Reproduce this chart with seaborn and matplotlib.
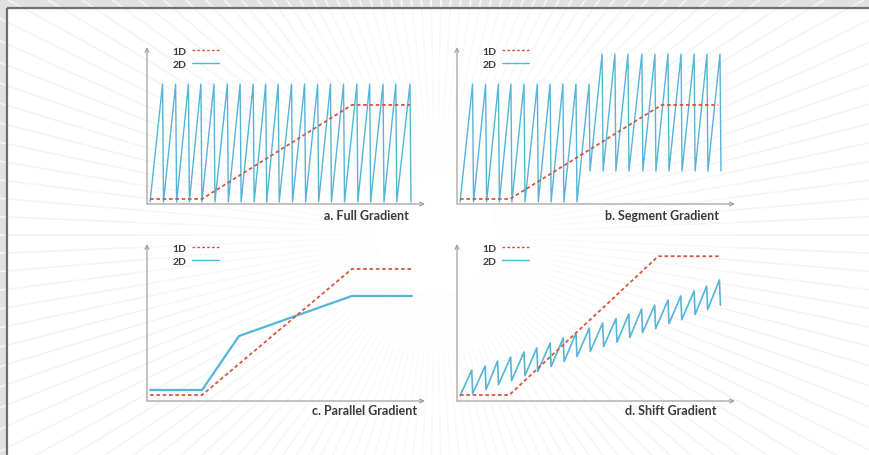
import numpy as np
import pandas as pd
import matplotlib
matplotlib.use("Agg")
import matplotlib.pyplot as plt
import seaborn as sns
from matplotlib.collections import LineCollection
from matplotlib.patches import Rectangle

# ---------------- data (axes scaled 0..100) ----------------
series_names = ["1D", "2D"]
panel_labels = ["a. Full Gradient", "b. Segment Gradient", "c. Parallel Gradient", "d. Shift Gradient"]

# a. Full Gradient
a_1d_x = [1.1, 19.8, 73.7, 94.6]
a_1d_y = [3.2, 3.2, 63.1, 63.1]
a_2d_start = [1.1, 1.3]
a_peak_x = [5.6, 10.3, 14.9, 19.4, 24.1, 28.9, 33.5, 38.2, 42.7, 47.2,
            52.0, 56.7, 61.4, 66.0, 70.7, 75.5, 80.1, 84.9, 89.5, 94.6]
a_peak_y = [76.4, 76.4, 76.4, 76.4, 76.4, 76.4, 76.4, 76.4, 76.4, 76.4,
            76.4, 76.4, 76.4, 76.4, 76.4, 76.4, 76.4, 76.4, 76.4, 76.4]
a_trough_y = [1.3, 1.3, 1.3, 1.3, 1.3, 1.3, 1.3, 1.3, 1.3, 1.3,
              1.3, 1.3, 1.3, 1.3, 1.3, 1.3, 1.3, 1.3, 1.3, 1.3]

# b. Segment Gradient
b_1d_x = [1.1, 19.1, 73.6, 94.0]
b_1d_y = [3.2, 3.2, 63.1, 63.1]
b_2d_start = [1.1, 1.3]
b_peak_x = [5.6, 10.3, 14.9, 19.4, 24.1, 28.9, 33.5, 38.1, 42.8, 47.5,
            52.2, 56.8, 61.5, 66.5, 71.2, 75.9, 80.6, 85.3, 89.9, 94.6]
b_peak_y = [76.4, 76.4, 76.4, 76.4, 76.4, 76.4, 76.4, 76.4, 76.4, 76.4,
            95.5, 95.5, 95.5, 95.5, 95.5, 95.5, 95.5, 95.5, 95.5, 95.5]
b_trough_y = [1.3, 1.3, 1.3, 1.3, 1.3, 1.3, 1.3, 1.3, 1.3, 21.0,
              21.0, 21.0, 21.0, 21.0, 21.0, 21.0, 21.0, 21.0, 21.0, 21.0]

# c. Parallel Gradient
c_1d_x = [1.1, 19.8, 73.7, 95.3]
c_1d_y = [3.8, 3.8, 84.1, 84.1]
c_2d_x = [1.1, 19.8, 33.1, 73.7, 95.3]
c_2d_y = [7.0, 7.0, 41.4, 66.9, 66.9]

# d. Shift Gradient
d_1d_x = [1.1, 18.8, 72.4, 94.6]
d_1d_y = [3.8, 3.8, 92.2, 92.2]
d_2d_start = [1.1, 3.4]
d_peak_x = [5.3, 10.1, 14.6, 19.3, 24.1, 28.7, 33.5, 38.2, 42.8, 47.6,
            52.4, 57.2, 61.8, 66.4, 71.1, 75.9, 80.5, 85.3, 89.8, 94.4]
d_peak_y = [19.7, 22.3, 25.5, 28.0, 31.2, 33.8, 36.9, 40.1, 43.3, 46.5,
            49.7, 52.5, 55.4, 58.6, 61.1, 64.3, 66.9, 70.1, 73.2, 77.1]
d_trough_y = [4.7, 7.3, 10.5, 13.0, 16.2, 18.8, 21.9, 25.1, 28.3, 31.5,
              34.7, 37.5, 40.4, 43.6, 46.1, 49.3, 51.9, 55.1, 58.2, 61.0]

# ---------------- styling ----------------
RED = "#d4573f"
BLUE = "#55b5d9"
AXC = "#a89f98"
TXT = "#3a3a3a"

sns.set_theme(style="white")
plt.rcParams["font.family"] = ["Lato", "DejaVu Sans"]

W, H = 869, 456
fig = plt.figure(figsize=(W / 100, H / 100), dpi=100)
fig.patch.set_facecolor("#e2e1df")

# background panel with very faint rays fading towards the centre
bg = fig.add_axes([0, 0, 1, 1], zorder=-10)
bg.set_xlim(0, W)
bg.set_ylim(H, 0)
bg.axis("off")
panel = Rectangle((7, 9), W + 10, H + 10, facecolor="white", edgecolor="none")
bg.add_patch(panel)
cx, cy = 436, 236
ang = np.linspace(0, 2 * np.pi, 150, endpoint=False)
radii = [60, 120, 180, 240, 300, 1200]
shades = ["#fdfdfd", "#fafafa", "#f8f8f8", "#f6f6f6", "#f4f4f4"]
segs, cols = [], []
for t in ang:
    for k in range(len(radii) - 1):
        r0, r1 = radii[k], radii[k + 1]
        segs.append([(cx + r0 * np.cos(t), cy + r0 * np.sin(t)), (cx + r1 * np.cos(t), cy + r1 * np.sin(t))])
        cols.append(shades[k])
lc = LineCollection(segs, colors=cols, linewidths=1.2)
lc.set_clip_path(panel)
bg.add_collection(lc)
bg.add_patch(Rectangle((7, 9), W + 10, H + 10, facecolor="none", edgecolor="#6f6f6f", lw=1.6, zorder=5))


def sawtooth(start, px, py, ty, eps=0.35):
    xs, ys = [start[0]], [start[1]]
    for x, p, t in zip(px, py, ty):
        xs += [x, x + eps]
        ys += [p, t]
    return xs, ys


def frame(x1, y1, x2, y2):
    d1 = pd.DataFrame({"x": x1, "y": y1, "series": series_names[0]})
    d2 = pd.DataFrame({"x": x2, "y": y2, "series": series_names[1]})
    return pd.concat([d1, d2], ignore_index=True)


sa = sawtooth(a_2d_start, a_peak_x, a_peak_y, a_trough_y)
sb = sawtooth(b_2d_start, b_peak_x, b_peak_y, b_trough_y)
sd = sawtooth(d_2d_start, d_peak_x, d_peak_y, d_trough_y)
frames = [
    frame(a_1d_x, a_1d_y, sa[0], sa[1]),
    frame(b_1d_x, b_1d_y, sb[0], sb[1]),
    frame(c_1d_x, c_1d_y, c_2d_x, c_2d_y),
    frame(d_1d_x, d_1d_y, sd[0], sd[1]),
]

# axes rectangles in pixels: left, top, right, bottom
rects = [(147, 48, 425, 205), (457, 48, 735, 205), (147, 245, 425, 402), (457, 245, 735, 402)]
label_pos = [(0.942, -0.070), (0.942, -0.070), (0.970, -0.058), (0.934, -0.058)]
blue_lw = [1.0, 1.0, 1.6, 1.2]

for i, (df, (l, t, r, b)) in enumerate(zip(frames, rects)):
    ax = fig.add_axes([l / W, 1 - b / H, (r - l) / W, (b - t) / H])
    ax.set_facecolor("none")
    sns.lineplot(data=df, x="x", y="y", hue="series", style="series",
                 hue_order=series_names, style_order=series_names,
                 palette={"1D": RED, "2D": BLUE},
                 dashes={"1D": (2.0, 1.5), "2D": ""},
                 sort=False, estimator=None, ax=ax, linewidth=1.1)
    for ln in ax.lines:
        if matplotlib.colors.same_color(ln.get_color(), RED):
            ln.set_zorder(4)
            ln.set_linewidth(1.3)
        else:
            ln.set_zorder(3)
            ln.set_linewidth(blue_lw[i])
    ax.set_xlim(0, 100)
    ax.set_ylim(0, 100)
    ax.set_xticks([])
    ax.set_yticks([])
    ax.set_xlabel("")
    ax.set_ylabel("")
    for s in ax.spines.values():
        s.set_visible(False)
    ax.annotate("", xy=(1.0, 0), xytext=(0, 0), xycoords="axes fraction",
                arrowprops=dict(arrowstyle="->", color=AXC, lw=0.9, shrinkA=0, shrinkB=0, mutation_scale=7))
    ax.annotate("", xy=(0, 1.0), xytext=(0, 0), xycoords="axes fraction",
                arrowprops=dict(arrowstyle="->", color=AXC, lw=0.9, shrinkA=0, shrinkB=0, mutation_scale=7))
    old = ax.get_legend()
    handles, labels = [], []
    for h, tx in zip(old.legend_handles, old.get_texts()):
        if tx.get_text() in series_names:
            handles.append(h)
            labels.append(tx.get_text())
    old.remove()
    for h, lab in zip(handles, labels):
        h.set_linewidth(1.0)
        h.set_color(RED if lab == "1D" else BLUE)
    leg = ax.legend(handles, labels, loc="upper left", bbox_to_anchor=(0.09, 1.005),
                    frameon=False, markerfirst=False, borderpad=0, borderaxespad=0,
                    handlelength=2.6, handletextpad=0.6, labelspacing=0.4,
                    prop={"family": ["Lato", "DejaVu Sans"], "weight": "bold", "size": 7.5})
    for tx in leg.get_texts():
        tx.set_color(TXT)
    lx, ly = label_pos[i]
    ax.text(lx, ly, panel_labels[i], transform=ax.transAxes, ha="right", va="center",
            fontsize=9, fontweight="bold", color=TXT)

fig.savefig("out.png", dpi=100, facecolor=fig.get_facecolor())
